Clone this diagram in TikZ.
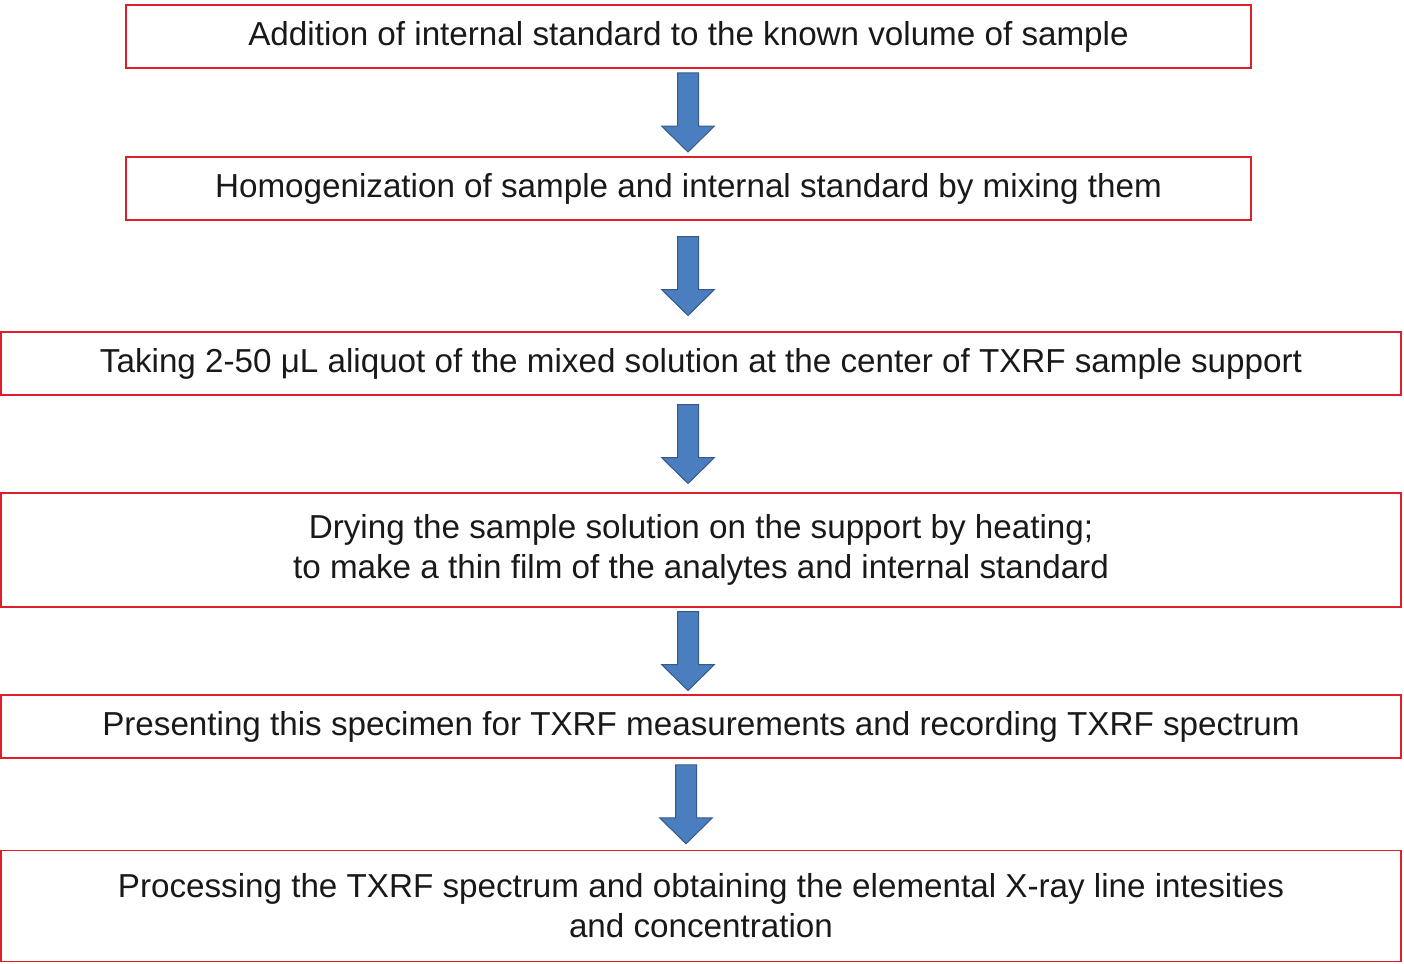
\documentclass[tikz,border=0pt]{standalone}
\usepackage{fontspec}
\setmainfont{Liberation Sans}
\usetikzlibrary{calc}
\definecolor{boxred}{RGB}{222,30,40}
\definecolor{arrowblue}{RGB}{74,126,190}
\definecolor{arrowedge}{RGB}{52,90,140}
\tikzset{every picture/.style={line width=0.75pt}}
\tikzset{
  stepbox/.style={draw=boxred, line width=1.5pt, rectangle, inner sep=0pt, align=center,
    font=\fontsize{33.2}{40}\selectfont, text=black!90},
  blockarrow/.style={draw=arrowedge, fill=arrowblue, line width=1pt,
    to path={let \p3=($(\tikztostart)!0.5!(\tikztotarget)$) in
      (\x3-10.5pt,\y3-39.5pt) -- (\x3+10.5pt,\y3-39.5pt) -- (\x3+10.5pt,\y3+13.5pt) -- (\x3+26.5pt,\y3+13.5pt)
      -- (\x3,\y3+39.5pt) -- (\x3-26.5pt,\y3+13.5pt) -- (\x3-10.5pt,\y3+13.5pt) -- cycle}}
}
\begin{document}
\begin{tikzpicture}[x=1pt,y=1pt,yscale=-1,xscale=1]
\useasboundingbox (0,0) rectangle (1404,963);

% Steps
\node[stepbox, minimum width=1125pt, minimum height=63pt] (add) at (688.5,36.5) {Addition of internal standard to the known volume of sample};
\node[stepbox, minimum width=1125pt, minimum height=63pt] (homog) at (688.5,188.5) {Homogenization of sample and internal standard by mixing them};
\node[stepbox, minimum width=1400pt, minimum height=63pt] (aliquot) at (701,363.5) {Taking 2-50 μL aliquot of the mixed solution at the center of TXRF sample support};
\node[stepbox, minimum width=1400pt, minimum height=114pt] (dry) at (701,550) {Drying the sample solution on the support by heating;\\to make a thin film of the analytes and internal standard};
\node[stepbox, minimum width=1400pt, minimum height=63pt] (measure) at (701,726.5) {Presenting this specimen for TXRF measurements and recording TXRF spectrum};
\node[stepbox, minimum width=1400pt, minimum height=111pt] (process) at (701,906) {Processing the TXRF spectrum and obtaining the elemental X-ray line intesities\\and concentration};

% Arrows
\coordinate (axis) at (688,0);
\coordinate (axislast) at (686,0);
\draw[blockarrow] (add.south -| axis) to (homog.north -| axis);
\draw[blockarrow] (homog.south -| axis) to (aliquot.north -| axis);
\draw[blockarrow] (aliquot.south -| axis) to (dry.north -| axis);
\draw[blockarrow] (dry.south -| axis) to (measure.north -| axis);
\draw[blockarrow] (measure.south -| axislast) to (process.north -| axislast);

\end{tikzpicture}
\end{document}
